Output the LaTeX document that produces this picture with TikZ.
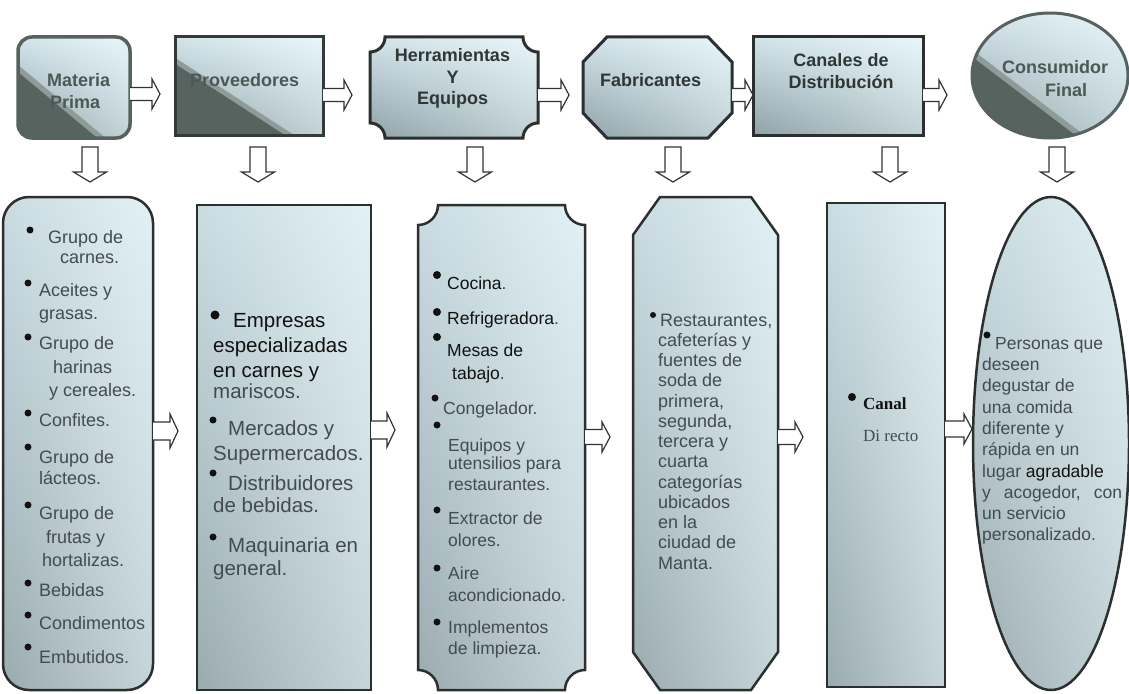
\documentclass[tikz,border=0pt]{standalone}
\usepackage{fontspec}
\setmainfont{Liberation Sans}
\newfontfamily\timesf{Liberation Serif}
\usetikzlibrary{calc,shadings}
\definecolor{slate}{HTML}{56635F}
\definecolor{slateband}{HTML}{8E9B99}
\definecolor{edgec}{HTML}{2B2F30}
\definecolor{topedgec}{HTML}{56625F}
\definecolor{txtg}{HTML}{434B4E}
\definecolor{txtk}{HTML}{111111}
\definecolor{toptxt}{HTML}{4B5855}
\definecolor{toptxtd}{HTML}{2F3636}
\definecolor{tUL}{HTML}{D2E4EA}
\definecolor{tUR}{HTML}{E8F6FA}
\definecolor{tLL}{HTML}{8FA2A8}
\definecolor{tLR}{HTML}{C2D2D6}
\definecolor{bUL}{HTML}{CADCE2}
\definecolor{bUR}{HTML}{E2F1F5}
\definecolor{bLL}{HTML}{9AABB0}
\definecolor{bLR}{HTML}{C6D5D9}
\definecolor{arrc}{HTML}{333333}
\newcommand\Fr{\rule{0pt}{15pt}}
\newcommand\rblk[5]{%
  \draw[blockarr] let \p1=(#1), \p2=(#2) in
   (\x1,\y1+#3pt) -- (\x2-#5pt,\y1+#3pt) -- (\x2-#5pt,\y1+#4pt) -- (\x2,\y1)
   -- (\x2-#5pt,\y1-#4pt) -- (\x2-#5pt,\y1-#3pt) -- (\x1,\y1-#3pt);}
\newcommand\dblk[5]{%
  \draw[blockarr] let \p1=(#1), \p2=(#2) in
   (\x1-#3pt,\y1) -- (\x1-#3pt,\y2+#5pt) -- (\x1-#4pt,\y2+#5pt) -- (\x1,\y2)
   -- (\x1+#4pt,\y2+#5pt) -- (\x1+#3pt,\y2+#5pt) -- (\x1+#3pt,\y1) -- cycle;}
\tikzset{
  topmetal/.style={upper left=tUL, upper right=tUR, lower left=tLL, lower right=tLR},
  botmetal/.style={upper left=bUL, upper right=bUR, lower left=bLL, lower right=bLR},
  boxedge/.style={draw=edgec, line width=2.5pt},
  topedge/.style={draw=edgec, line width=3pt},
  topedgeS/.style={draw=topedgec, line width=3.5pt},
  anchorbox/.style={draw=none, inner sep=0pt, outer sep=0pt},
  toplabel/.style={font={\bfseries\fontsize{18}{22}\selectfont}, inner sep=0pt},
  itemA/.style={anchor=north west, inner sep=0pt, align=left, text=txtg, font={\fontsize{18}{22}\selectfont}},
  itemB/.style={anchor=north west, inner sep=0pt, align=left, text=txtg, font={\fontsize{20.5}{24}\selectfont}},
  itemC/.style={anchor=north west, inner sep=0pt, align=left, text=txtg, font={\fontsize{17.5}{20.5}\selectfont}},
  itemD/.style={anchor=north west, inner sep=0pt, align=left, text=txtg, font={\fontsize{18}{20.25}\selectfont}},
  itemE/.style={anchor=north west, inner sep=0pt, align=left, text=txtg, font={\timesf\fontsize{17}{32}\selectfont}},
  itemF/.style={anchor=north west, inner sep=0pt, align=left, text=txtg, font={\fontsize{17.5}{21.3}\selectfont}},
  blockarr/.style={draw=arrc, line width=1.2pt, fill=white, line join=miter},
  dot/.style={fill=txtk},
}
\begin{document}
\begin{tikzpicture}[x=1pt,y=-1pt]
\useasboundingbox (0,0) rectangle (1129,693);
\fill[white] (0,0) rectangle (1129,693);

% ---------- anchor nodes (shape frames)
\node[anchorbox, minimum width=112, minimum height=101] (m1) at (74,87.5) {};
\node[anchorbox, minimum width=148, minimum height=98] (m2) at (249,86) {};
\node[anchorbox, minimum width=168, minimum height=101] (m3) at (454,87.5) {};
\node[anchorbox, minimum width=149, minimum height=101] (m4) at (657.5,87.5) {};
\node[anchorbox, minimum width=170, minimum height=98] (m5) at (838,86) {};
\node[anchorbox, minimum width=156, minimum height=125] (m6) at (1050,75.5) {};
\node[anchorbox, minimum width=150, minimum height=493] (b1) at (78,443.5) {};
\node[anchorbox, minimum width=174, minimum height=485] (b2) at (284,447.5) {};
\node[anchorbox, minimum width=167, minimum height=485] (b3) at (501.5,447.5) {};
\node[anchorbox, minimum width=145, minimum height=493] (b4) at (705.5,443.5) {};
\node[anchorbox, minimum width=118, minimum height=484] (b5) at (886,445) {};
\node[anchorbox, minimum width=156, minimum height=493] (b6) at (1051,443.5) {};

% ---------- top shapes
% Materia Prima
\shade[topmetal, rounded corners=14pt] (18,37) rectangle (130,138);
\begin{scope}
\clip[rounded corners=14pt] (18,37) rectangle (130,138);
\fill[slateband] (0,50) -- (150,175) -- (150,182) -- (0,57) -- cycle;
\fill[slate] (0,57) -- (150,182) -- (0,182) -- cycle;
\end{scope}
\draw[topedgeS, rounded corners=14pt] (18,37) rectangle (130,138);
% Proveedores
\shade[topmetal] (175,37) rectangle (323,135);
\begin{scope}
\clip (175,37) rectangle (323,135);
\fill[slateband] (170,54.45) -- (340,164.95) -- (340,170.95) -- (170,60.45) -- cycle;
\fill[slate] (170,60.45) -- (340,170.95) -- (340,180) -- (170,180) -- cycle;
\end{scope}
\draw[topedge, draw=edgec!80!topedgec] (175,37) rectangle (323,135);
% Herramientas y Equipos (plaque)
\shade[topmetal] (385,37) -- (523,37) arc[start angle=180,end angle=90,radius=15]
  -- (538,123) arc[start angle=270,end angle=180,radius=15]
  -- (385,138) arc[start angle=0,end angle=-90,radius=15]
  -- (370,52) arc[start angle=90,end angle=0,radius=15] -- cycle;
\draw[topedge] (385,37) -- (523,37) arc[start angle=180,end angle=90,radius=15]
  -- (538,123) arc[start angle=270,end angle=180,radius=15]
  -- (385,138) arc[start angle=0,end angle=-90,radius=15]
  -- (370,52) arc[start angle=90,end angle=0,radius=15] -- cycle;
% Fabricantes (octagon)
\shade[topmetal] (607,37) -- (708,37) -- (732,62) -- (732,113) -- (708,138) -- (607,138) -- (583,113) -- (583,62) -- cycle;
\draw[topedge] (607,37) -- (708,37) -- (732,62) -- (732,113) -- (708,138) -- (607,138) -- (583,113) -- (583,62) -- cycle;
% Canales de Distribucion
\shade[topmetal] (753,37) rectangle (923,135);
\draw[topedge] (753,37) rectangle (923,135);
% Consumidor Final (ellipse)
\shade[topmetal] (1050,75.5) ellipse [x radius=78, y radius=62.5];
\begin{scope}
\clip (1050,75.5) ellipse [x radius=78, y radius=62.5];
\fill[slateband] (960,40.6) -- (1140,177.4) -- (1140,184.4) -- (960,47.6) -- cycle;
\fill[slate] (960,47.6) -- (1140,184.4) -- (1140,200) -- (960,200) -- cycle;
\end{scope}
\draw[topedgeS, line width=3pt] (1050,75.5) ellipse [x radius=78, y radius=62.5];

% ---------- top labels
\node[toplabel, text=toptxt, anchor=north west, align=left] (t1) at (47,72.5) {\rule{0pt}{14pt}Materia\\\hspace*{3pt}Prima};
\node[toplabel, text=toptxt, anchor=base west] (t2) at (190,86.5) {Proveedores};
\node[toplabel, text=toptxtd, anchor=north, align=center, font={\bfseries\fontsize{18}{21.5}\selectfont}] (t3) at (452.5,47.5) {\rule{0pt}{14pt}Herramientas\\Y\\Equipos};
\node[toplabel, text=toptxtd, anchor=base west] (t4) at (600,86.5) {Fabricantes};
\node[toplabel, text=toptxtd, anchor=north, align=center] (t5) at (841,52.5) {\rule{0pt}{14pt}Canales de\\Distribución};
\node[toplabel, text=toptxt, anchor=north, align=center, font={\bfseries\fontsize{18}{23}\selectfont}] (t6) at (1055,59.5) {\rule{0pt}{14pt}Consumidor\\\hspace*{22pt}Final};

% ---------- top arrows
\coordinate (ra1) at (160,94);
\coordinate (ra2) at (352,95);
\coordinate (ra3) at (569,95);
\coordinate (ra4) at (m5.west |- 0,95);
\coordinate (ra5) at (947,95);
\rblk{m1.east |- ra1}{ra1}{6.5}{15}{8}
\rblk{m2.east |- ra2}{ra2}{6.5}{15}{8}
\rblk{m3.east |- ra3}{ra3}{6.5}{15}{8}
\rblk{m4.east |- ra4}{ra4}{6.5}{15}{8}
\rblk{m5.east |- ra5}{ra5}{6.5}{15}{8}

% ---------- down arrows
\coordinate (d1s) at (90,147);   \coordinate (d1e) at (90,182);
\coordinate (d2s) at (258,147);  \coordinate (d2e) at (258,182);
\coordinate (d3s) at (475,147);  \coordinate (d3e) at (475,182);
\coordinate (d4s) at (673,147);  \coordinate (d4e) at (673,182);
\coordinate (d5s) at (890,147);  \coordinate (d5e) at (890,182);
\coordinate (d6s) at (1057,147); \coordinate (d6e) at (1057,182);
\dblk{d1s}{d1e}{8}{16.5}{10}
\dblk{d2s}{d2e}{8}{16.5}{10}
\dblk{d3s}{d3e}{8}{16.5}{10}
\dblk{d4s}{d4e}{8}{16.5}{10}
\dblk{d5s}{d5e}{8}{16.5}{10}
\dblk{d6s}{d6e}{8}{16.5}{10}

% ---------- bottom shapes
\shade[botmetal, rounded corners=26pt] (3,197) rectangle (153,690);
\draw[boxedge, rounded corners=26pt] (3,197) rectangle (153,690);
\shade[botmetal] (197,205) rectangle (371,690);
\draw[boxedge] (197,205) rectangle (371,690);
\shade[botmetal] (438,205) -- (565,205) arc[start angle=180,end angle=90,radius=20]
  -- (585,670) arc[start angle=270,end angle=180,radius=20]
  -- (438,690) arc[start angle=0,end angle=-90,radius=20]
  -- (418,225) arc[start angle=90,end angle=0,radius=20] -- cycle;
\draw[boxedge] (438,205) -- (565,205) arc[start angle=180,end angle=90,radius=20]
  -- (585,670) arc[start angle=270,end angle=180,radius=20]
  -- (438,690) arc[start angle=0,end angle=-90,radius=20]
  -- (418,225) arc[start angle=90,end angle=0,radius=20] -- cycle;
\shade[botmetal] (660,197) -- (751,197) -- (778,235) -- (778,652) -- (751,690) -- (660,690) -- (633,652) -- (633,235) -- cycle;
\draw[boxedge] (660,197) -- (751,197) -- (778,235) -- (778,652) -- (751,690) -- (660,690) -- (633,652) -- (633,235) -- cycle;
\shade[botmetal] (827,203) rectangle (945,687);
\draw[boxedge] (827,203) rectangle (945,687);
\shade[botmetal] (1051,443.5) ellipse [x radius=78, y radius=246.5];
\draw[boxedge] (1051,443.5) ellipse [x radius=78, y radius=246.5];

% ---------- bottom arrows
\coordinate (ba1) at (178,431);
\coordinate (ba2) at (395,430);
\coordinate (ba3) at (610,437);
\coordinate (ba4) at (803,437);
\coordinate (ba5) at (972,429);
\rblk{b1.east |- ba1}{ba1}{9}{17}{8}
\rblk{b2.east |- ba2}{ba2}{9}{17}{8}
\rblk{b3.east |- ba3}{ba3}{7.5}{15}{8}
\rblk{b4.east |- ba4}{ba4}{7.5}{15}{8}
\rblk{b5.east |- ba5}{ba5}{8}{15}{8}

% ---------- box 1 items
\node[itemA] (i11) at (48,228) {\Fr Grupo de\\[-2pt]\hspace*{12pt}carnes.};
\node[itemA] (i12) at (39,281) {\Fr Aceites y\\[1pt]grasas.};
\node[itemA] (i13) at (39,334) {\Fr Grupo de\\[2pt]\hspace*{14pt}harinas\\[1pt]\hspace*{10pt}y cereales.};
\node[itemA] (i14) at (39,411) {\Fr Confites.};
\node[itemA] (i15) at (39,448) {\Fr Grupo de\\[-1pt]lácteos.};
\node[itemA] (i16) at (39,504) {\Fr Grupo de\\[2pt]\hspace*{7pt}frutas y\\[1pt]\hspace*{3pt}hortalizas.};
\node[itemA] (i17) at (39,581) {\Fr Bebidas};
\node[itemA] (i18) at (39,614) {\Fr Condimentos};
\node[itemA] (i19) at (39,648) {\Fr Embutidos.};
\fill[dot] (30,230) circle (3.5);
\fill[dot] (28,283) circle (3.5);
\fill[dot] (28,337) circle (3.5);
\fill[dot] (28,413) circle (3.5);
\fill[dot] (28,447) circle (3.5);
\fill[dot] (28,505) circle (3.5);
\fill[dot] (28,583) circle (3.5);
\fill[dot] (28,615) circle (3.5);
\fill[dot] (28,647) circle (3.5);

% ---------- box 2 items
\node[itemB] (i21) at (213,312) {\Fr\hspace*{20pt}{\color{txtk}Empresas}\\[1pt]{\color{txtk}especializadas}\\[1pt]{\color{txtk}en carnes y}\\[-3pt]mariscos.};
\node[itemB] (i22) at (213,420) {\Fr\hspace*{15pt}Mercados y\\[1pt]Supermercados.};
\node[itemB] (i23) at (213,475) {\Fr\hspace*{15pt}Distribuidores\\[-2pt]de bebidas.};
\node[itemB] (i24) at (213,537) {\Fr\hspace*{15pt}Maquinaria en\\[-1pt]general.};
\fill[dot] (215,315) circle (4.5);
\fill[dot] (213,420) circle (3.5);
\fill[dot] (213,473) circle (3.5);
\fill[dot] (213,537) circle (3.5);

% ---------- box 3 items
\node[itemC] (i31) at (447,274) {\Fr{\color{txtk}Cocina}.};
\node[itemC] (i32) at (447,309) {\Fr{\color{txtk}Refrigeradora}.};
\node[itemC] (i33) at (447,341) {\Fr{\color{txtk}Mesas de}\\[2.5pt]\hspace*{5pt}{\color{txtk}tabajo}.};
\node[itemC] (i34) at (443,399) {\Fr Congelador.};
\node[itemC] (i35) at (448,436) {\Fr Equipos y\\[-2pt]utensilios para\\restaurantes.};
\node[itemC] (i36) at (448,509) {\Fr Extractor de\\[1.5pt]olores.};
\node[itemC] (i37) at (448,564) {\Fr Aire\\[1.5pt]acondicionado.};
\node[itemC] (i38) at (448,618) {\Fr Implementos\\[0.5pt]de limpieza.};
\fill[dot] (437,275) circle (4);
\fill[dot] (437,312) circle (4);
\fill[dot] (437,337) circle (4);
\fill[dot] (435,398) circle (3.5);
\fill[dot] (437,425) circle (3.5);
\fill[dot] (437,510) circle (3.5);
\fill[dot] (437,568) circle (3.5);
\fill[dot] (437,622) circle (3.5);

% ---------- box 4 text
\node[itemD] (i41) at (658,311) {\Fr\hspace*{2pt}Restaurantes,\\cafeterías y\\fuentes de\\soda de\\primera,\\segunda,\\tercera y\\cuarta\\categorías\\ubicados\\en la\\ciudad de\\Manta.};
\fill[dot] (653,315) circle (3);

% ---------- box 5 text
\node[itemE] (i51) at (863,394) {\Fr{\color{txtk}\textbf{Canal}}\\Di recto};
\fill[dot] (852,397) circle (4);

% ---------- box 6 text
\node[itemF] (i61) at (982,334) {\Fr\hspace*{13pt}Personas que\\deseen\\degustar de\\una comida\\diferente y\\rápida en un\\lugar {\color{txtk}agradable}\\y\hspace{13pt}acogedor,\hspace{13pt}con\\un servicio\\personalizado.};
\fill[dot] (987,335) circle (3.5);
\end{tikzpicture}
\end{document}
